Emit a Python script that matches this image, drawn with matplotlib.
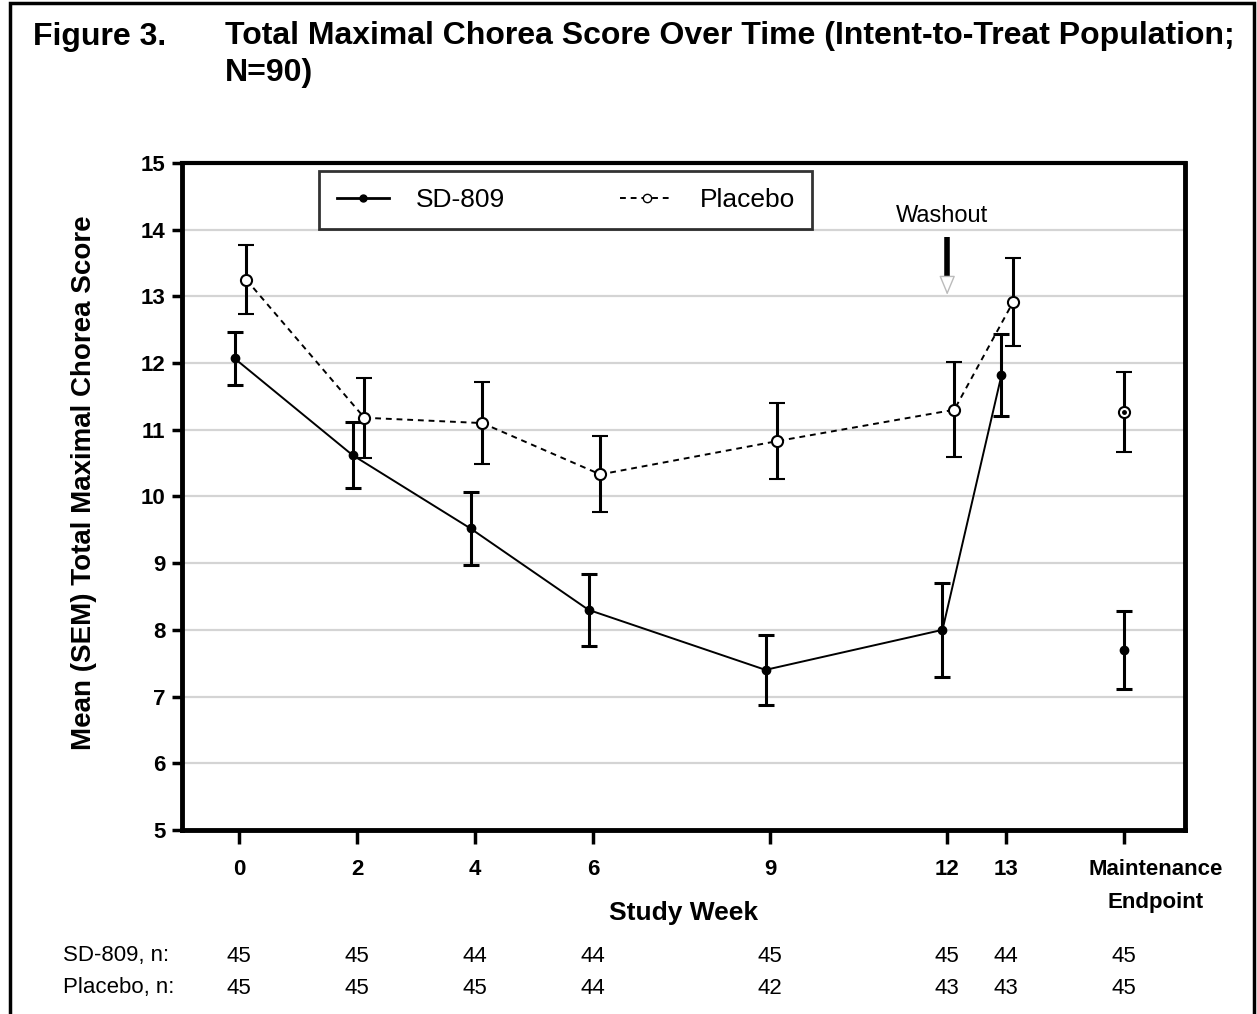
import matplotlib.pyplot as plt
import matplotlib.transforms as mtransforms
from matplotlib.patches import Rectangle
from matplotlib.lines import Line2D

# data
weeks = [0, 2, 4, 6, 9, 12, 13]
maint_pos = 15
tick_pos = [0, 2, 4, 6, 9, 12, 13, 15]
tick_labels = ["0", "2", "4", "6", "9", "12", "13", "Maintenance\nEndpoint"]

sd_mean = [12.07, 10.62, 9.52, 8.30, 7.40, 8.00, 11.82]
sd_sem = [0.40, 0.50, 0.55, 0.54, 0.52, 0.70, 0.61]
sd_maint_mean = 7.70
sd_maint_sem = 0.58

pl_mean = [13.25, 11.18, 11.10, 10.33, 10.83, 11.30, 12.92]
pl_sem = [0.52, 0.60, 0.62, 0.57, 0.57, 0.71, 0.66]
pl_maint_mean = 11.27
pl_maint_sem = 0.60

sd_n = [45, 45, 44, 44, 45, 45, 44, 45]
pl_n = [45, 45, 45, 44, 42, 43, 43, 45]

plt.rcParams["font.family"] = ["Liberation Sans", "DejaVu Sans"]

fig = plt.figure(figsize=(12.57, 10.14), dpi=100)
ax = fig.add_axes([0.1448, 0.1815, 0.7979, 0.6578])

sd_x = [w - 0.08 for w in weeks]
pl_x = [w + 0.12 for w in weeks]

eb = dict(ecolor="black", elinewidth=2.2, capsize=6, capthick=2.2, zorder=3)
dash = (0, (3, 2.5))

ax.errorbar(sd_x, sd_mean, yerr=sd_sem, color="black", lw=1.4, marker="o",
            ms=6, mfc="black", mec="black", **eb)
ax.errorbar(pl_x, pl_mean, yerr=pl_sem, color="black", lw=1.4, ls=dash,
            marker="o", ms=8, mfc="white", mec="black", mew=1.5, **eb)
ax.errorbar([maint_pos], [sd_maint_mean], yerr=[sd_maint_sem], fmt="o",
            color="black", ms=6, **eb)
ax.errorbar([maint_pos], [pl_maint_mean], yerr=[pl_maint_sem], fmt="o",
            color="black", ms=8, mfc="white", mec="black", mew=1.5, **eb)
ax.plot([maint_pos], [pl_maint_mean], "o", color="black", ms=2.5, zorder=4)

ax.set_xlim(-0.97, 16.03)
ax.set_ylim(5, 15)
ax.set_yticks(range(5, 16))
ax.set_xticks(tick_pos)
ax.set_xticklabels(tick_labels, fontsize=16, fontweight="bold")
for lbl in ax.get_yticklabels():
    lbl.set_fontsize(16)
    lbl.set_fontweight("bold")

ax.grid(axis="y", color="#d4d4d4", lw=1.6, zorder=0)
ax.set_axisbelow(True)
for s in ["left", "bottom", "right"]:
    ax.spines[s].set_linewidth(3.5)
ax.spines["top"].set_linewidth(3)
ax.tick_params(axis="y", direction="out", length=7, width=2.5, pad=5)
ax.tick_params(axis="x", direction="out", length=10, width=2.5, pad=11)

# shift the maintenance label right like the original
last = ax.get_xticklabels()[-1]
last.set_transform(last.get_transform() +
                   mtransforms.ScaledTranslation(0.31, 0, fig.dpi_scale_trans))
last.set_linespacing(1.75)

ax.set_ylabel("Mean (SEM) Total Maximal Chorea Score", fontsize=20,
              fontweight="bold")
ax.yaxis.set_label_coords(-0.085, 0.52)
ax.set_xlabel("Study Week", fontsize=19, fontweight="bold")
ax.xaxis.set_label_coords(0.5, -0.106)

handles = [
    Line2D([], [], color="black", lw=2, marker="o", ms=5),
    Line2D([], [], color="black", lw=1.4, ls=dash, marker="o", ms=6,
           mfc="white", mec="black"),
]
leg = ax.legend(handles, ["SD-809", "Placebo"], loc="center",
                bbox_to_anchor=(0.137, 0.898, 0.491, 0.093),
                mode="expand", ncol=2, fontsize=19, frameon=True,
                fancybox=False, edgecolor="black", handlelength=2.0,
                borderaxespad=0, borderpad=0.65, handletextpad=1.0)
leg.get_frame().set_linewidth(2)

# washout marker
ax.text(11.92, 14.2, "Washout", ha="center", va="center", fontsize=17)
ax.plot([12, 12], [13.89, 13.25], color="black", lw=4, solid_capstyle="butt")
ax.annotate("", xy=(12, 12.98), xytext=(12, 13.26),
            arrowprops=dict(arrowstyle="-|>,head_length=1.2,head_width=0.5",
                            fc="white", ec="#bbbbbb", lw=1))

# n table
tr = mtransforms.blended_transform_factory(ax.transData, fig.transFigure)
fig.text(0.05, 1 - 956 / 1014, "SD-809, n:", fontsize=16, va="center")
fig.text(0.05, 1 - 988 / 1014, "Placebo, n:", fontsize=16, va="center")
for p, a, b in zip(tick_pos, sd_n, pl_n):
    ax.text(p, 1 - 956 / 1014, str(a), transform=tr, ha="center",
            va="center", fontsize=16)
    ax.text(p, 1 - 988 / 1014, str(b), transform=tr, ha="center",
            va="center", fontsize=16)

# title
fig.text(33 / 1257, 1 - 37 / 1014, "Figure 3.", fontsize=23,
         fontweight="bold", va="center")
fig.text(225 / 1257, 1 - 37 / 1014,
         "Total Maximal Chorea Score Over Time (Intent-to-Treat Population;\nN=90)",
         fontsize=23, fontweight="bold", va="top", linespacing=1.3,
         transform=fig.transFigure + mtransforms.ScaledTranslation(0, 0.16, fig.dpi_scale_trans))

fig.patches.append(Rectangle((0.008, -0.05), 0.99, 1.047, transform=fig.transFigure,
                             fill=False, ec="black", lw=2.5))

fig.savefig("out.png", dpi=100)
